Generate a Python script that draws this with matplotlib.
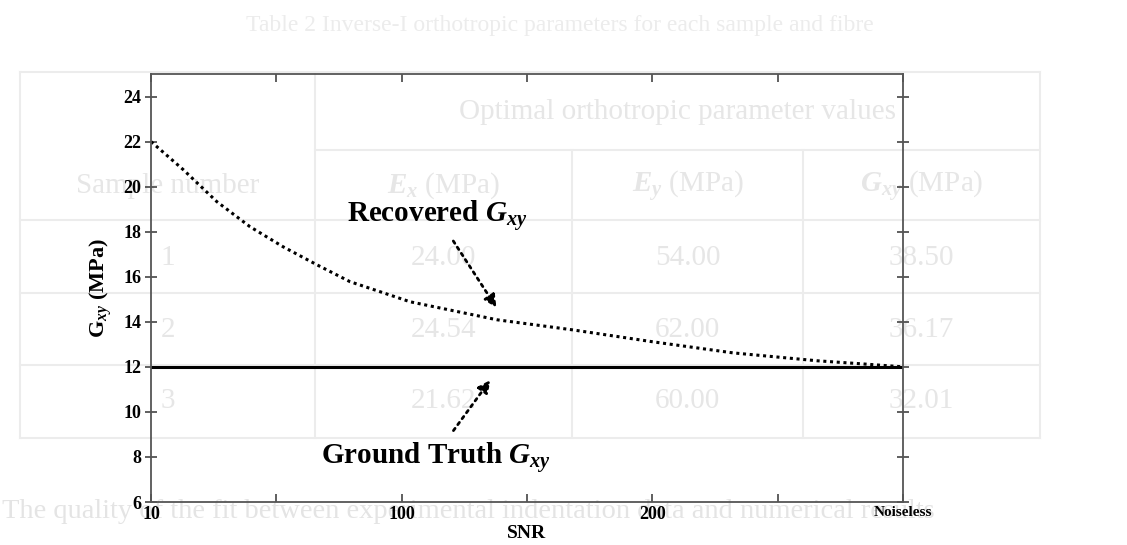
import matplotlib
matplotlib.use('Agg')
import matplotlib.pyplot as plt
from matplotlib.lines import Line2D

plt.rcParams['font.family'] = ['Liberation Serif', 'DejaVu Serif']
plt.rcParams['font.weight'] = 'bold'
plt.rcParams['axes.labelweight'] = 'bold'
plt.rcParams['mathtext.fontset'] = 'custom'
plt.rcParams['mathtext.rm'] = 'Liberation Serif:bold'
plt.rcParams['mathtext.it'] = 'Liberation Serif:italic:bold'
plt.rcParams['mathtext.bf'] = 'Liberation Serif:bold'

# x axis: SNR categories (equally spaced on the plot)
snr_labels = ['10', '100', '200', 'Noiseless']
snr_pos = [0, 1, 2, 3]
minor_pos = [0.5, 1.5, 2.5]

# recovered Gxy (position on SNR axis, MPa)
curve_pos = [0.0, 0.128, 0.263, 0.395, 0.527, 0.662, 0.794, 0.926, 1.033,
             1.380, 1.683, 2.003, 2.322, 2.657, 2.840, 3.0]
recovered_gxy = [22.0, 20.76, 19.33, 18.22, 17.33, 16.53, 15.78, 15.29, 14.89,
                 14.09, 13.64, 13.11, 12.62, 12.27, 12.13, 12.0]

# ground truth
truth_pos = [0, 3]
truth_gxy = [12.0, 12.0]

# faded table that shows through behind the chart
table_header = 'Optimal orthotropic parameter values'
table_cols = ['Sample number', '$E_x$ (MPa)', '$E_y$ (MPa)', '$G_{xy}$ (MPa)']
table_rows = [['1', '24.00', '54.00', '38.50'],
              ['2', '24.54', '62.00', '36.17'],
              ['3', '21.62', '60.00', '32.01']]

W, H = 1127, 545
fig = plt.figure(figsize=(W / 100, H / 100), dpi=100)


def fx(x):
    return x / W


def fy(y):
    return 1 - y / H


# background table (very faint)
bg_line = '#ececec'
bg_text = '#e6e6e6'
col_x = [20, 315, 572, 803, 1040]
row_y = [72, 150, 220, 293, 365, 438]
for y in row_y:
    x0 = col_x[1] if y == 150 else col_x[0]
    fig.add_artist(Line2D([fx(x0), fx(col_x[-1])], [fy(y), fy(y)],
                          color=bg_line, lw=1.5, zorder=-2))
for i, x in enumerate(col_x):
    y0 = row_y[1] if i in (2, 3) else row_y[0]
    fig.add_artist(Line2D([fx(x), fx(x)], [fy(y0), fy(row_y[-1])],
                          color=bg_line, lw=1.5, zorder=-2))

bg_kw = dict(color=bg_text, fontsize=21, fontweight='normal', ha='center',
             va='center', zorder=-1)
fig.text(fx((col_x[1] + col_x[-1]) / 2), fy(112), table_header, **bg_kw)
centers = [(col_x[i] + col_x[i + 1]) / 2 for i in range(4)]
for c, lab in zip(centers, table_cols):
    fig.text(fx(c), fy(186), lab, **bg_kw)
for r, row in zip([258, 330, 401], table_rows):
    for c, val in zip(centers, row):
        fig.text(fx(c), fy(r), val, **bg_kw)
fig.text(fx(560), fy(25), 'Table 2 Inverse-I orthotropic parameters for each sample and fibre',
         color='#ececec', fontsize=17, fontweight='normal', ha='center', va='center', zorder=-1)
fig.text(fx(2), fy(512), 'The quality of the fit between experimental indentation data and numerical results',
         color='#e4e4e4', fontsize=20.5, fontweight='normal', ha='left', va='center', zorder=-1)

# chart
ax = fig.add_axes([fx(151), fy(502), fx(903 - 151), (502 - 74) / H])
ax.set_facecolor('none')

ax.plot(truth_pos, truth_gxy, '-', color='black', lw=2.2)
ax.plot(curve_pos, recovered_gxy, color='black', lw=2.2, dashes=(1, 1.2))

ax.set_xlim(0, 3)
ax.set_ylim(6, 25)
ax.set_xticks(snr_pos)
ax.set_xticklabels(snr_labels)
ax.set_xticks(minor_pos, minor=True)
ax.set_yticks(range(6, 25, 2))
for lab in ax.get_xticklabels():
    lab.set_fontsize(11 if lab.get_text() == 'Noiseless' else 13)
for lab in ax.get_yticklabels():
    lab.set_fontsize(13)
ax.tick_params(which='both', direction='in', top=True, right=True, width=1.2, color='#444444', pad=3)
ax.tick_params(which='major', length=6)
ax.tick_params(which='minor', length=6)
ax.tick_params(axis='y', which='major', direction='inout', length=8)
for s in ax.spines.values():
    s.set_color('#555555')
    s.set_linewidth(1.3)

ax.set_xlabel('SNR', fontsize=14, labelpad=1)
ax.set_ylabel('G$_{xy}$ (MPa)', fontsize=16, labelpad=7)

arrow = dict(arrowstyle='-|>', linestyle=':', lw=2, color='black', mutation_scale=18)
ax.text(0.78, 18.4, 'Recovered $G_{xy}$', fontsize=21, ha='left', va='baseline')
ax.annotate('', xy=(1.384, 14.53), xytext=(1.20, 17.69), arrowprops=dict(arrow))
ax.text(0.68, 7.64, 'Ground Truth $G_{xy}$', fontsize=21, ha='left', va='baseline')
ax.annotate('', xy=(1.36, 11.51), xytext=(1.20, 9.07), arrowprops=dict(arrow))

fig.savefig('out.png', dpi=100)
